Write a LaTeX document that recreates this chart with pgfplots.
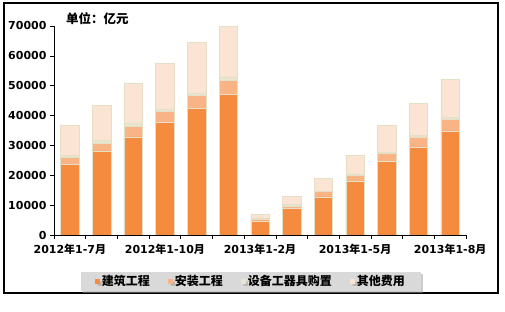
\documentclass[border=0pt]{standalone}
\usepackage{pgfplots}
\pgfplotsset{compat=1.18}
\usepackage{pgfplotstable}
\usepackage{fontspec}
\setmainfont{DejaVu Sans}
\newfontfamily\cjk{Noto Sans CJK SC}
\usetikzlibrary{shadows}
\definecolor{cJZ}{RGB}{245,139,63}
\definecolor{cAZ}{RGB}{249,180,133}
\definecolor{cSB}{RGB}{232,230,204}
\definecolor{cQT}{RGB}{251,228,212}
\definecolor{cEdge}{RGB}{228,224,200}
\definecolor{cLeg}{RGB}{217,217,217}
\pgfplotstableread{
x jz az sb qt
0 23700 2200 800 10150
1 28200 2500 880 11850
2 32900 3600 900 13400
3 37600 3700 900 15300
4 42300 4360 900 16970
5 47000 4900 900 17000
6 4700 700 300 1200
7 8800 900 500 2800
8 12800 1700 300 4200
9 17850 2000 550 6250
10 24550 2800 350 9000
11 29550 3350 450 10750
12 34900 3850 650 12700
}\data
\begin{document}
\begin{tikzpicture}
\useasboundingbox (0pt,0pt) rectangle (505pt,312pt);
\draw[line width=1.3pt] (4pt,19pt) rectangle (498pt,309pt);
\begin{axis}[
  at={(54pt,77pt)}, anchor=south west,
  width=412pt, height=209pt, scale only axis,
  ybar stacked, bar width=18.5pt,
  xmin=-0.5, xmax=12.5, ymin=0, ymax=70000,
  enlargelimits=false,
  axis x line*=bottom, axis y line*=left,
  axis line style={line width=0.8pt, black},
  tick align=outside,
  xtick={0,3,6,9,12},
  xticklabels={2012{\cjk\bfseries 年}1-7{\cjk\bfseries 月},2012{\cjk\bfseries 年}1-10{\cjk\bfseries 月},2013{\cjk\bfseries 年}1-2{\cjk\bfseries 月},2013{\cjk\bfseries 年}1-5{\cjk\bfseries 月},2013{\cjk\bfseries 年}1-8{\cjk\bfseries 月}},
  minor xtick={-0.5,0.5,...,12.5},
  major x tick style={draw=none},
  minor x tick style={black, line width=0.6pt},
  minor tick length=4pt,
  ytick={0,10000,...,70000},
  major tick length=4pt,
  y tick style={black, line width=0.6pt},
  scaled y ticks=false,
  yticklabel style={/pgf/number format/.cd, fixed, 1000 sep={}},
  ticklabel style={font=\bfseries\fontsize{11}{11}\selectfont},
  /pgf/number format/assume math mode=true,
  xticklabel style={yshift=-2pt},
  legend columns=4,
  legend style={at={(0.478,-0.2225)}, anchor=center, fill=cLeg, draw=none,
    drop shadow={shadow xshift=2pt, shadow yshift=-2pt, fill=gray!80},
    font=\cjk\bfseries\fontsize{12}{12}\selectfont,
    inner xsep=14pt, inner ysep=2pt,
    /tikz/every even column/.append style={column sep=16pt}},
  legend image code/.code={\fill[#1,draw=none] (0pt,-2.5pt) rectangle (5pt,2.5pt);},
  every axis plot/.append style={draw=cEdge, line width=0.5pt},
]
\addplot[fill=cJZ] table[x=x,y=jz]{\data};
\addplot[fill=cAZ] table[x=x,y=az]{\data};
\addplot[fill=cSB] table[x=x,y=sb]{\data};
\addplot[fill=cQT] table[x=x,y=qt]{\data};
\legend{建筑工程,安装工程,设备工器具购置,其他费用}
\end{axis}
\node[anchor=west, inner sep=0pt, font=\cjk\bfseries\fontsize{12.5}{12.5}\selectfont] at (66pt,293pt) {单位：亿元};
\end{tikzpicture}
\end{document}
